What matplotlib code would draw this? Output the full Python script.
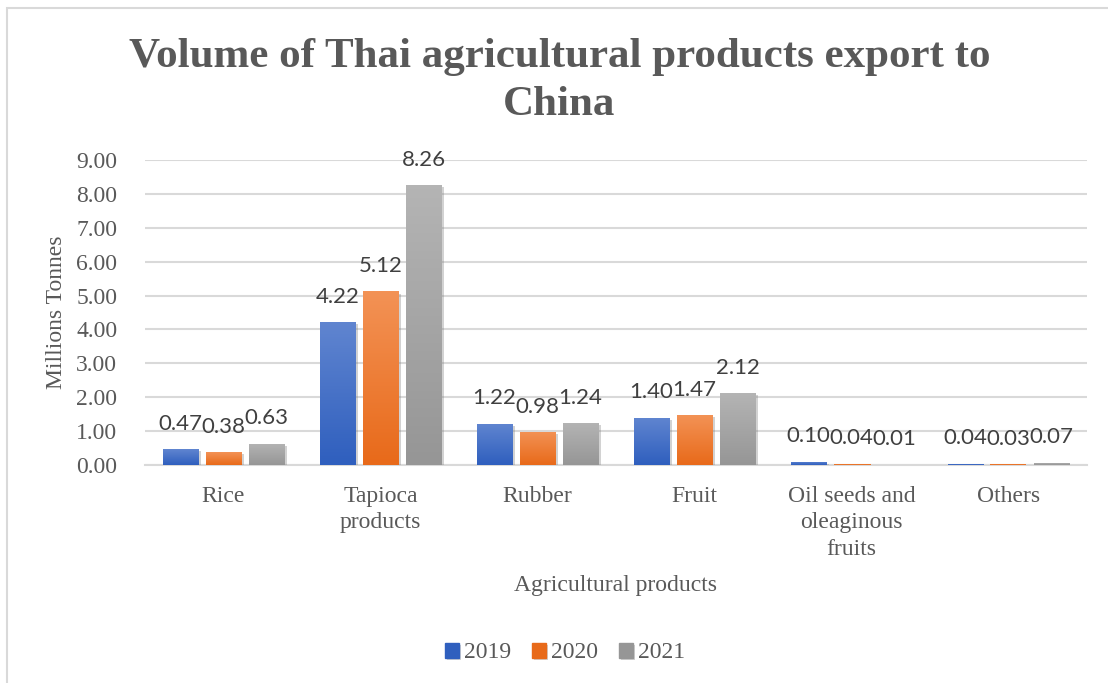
import numpy as np
import matplotlib.pyplot as plt
import matplotlib.patheffects as pe
from matplotlib.patches import Rectangle

# Export volumes, millions of tonnes
categories = ['Rice', 'Tapioca\nproducts', 'Rubber', 'Fruit',
              'Oil seeds and\noleaginous\nfruits', 'Others']
years = ['2019', '2020', '2021']
v2019 = [0.47, 4.22, 1.22, 1.40, 0.10, 0.04]
v2020 = [0.38, 5.12, 0.98, 1.47, 0.04, 0.03]
v2021 = [0.63, 8.26, 1.24, 2.12, 0.01, 0.07]

# gradient (top, bottom) per series
grads = [('#6085d0', '#2f5fbe'), ('#f39255', '#e86a1a'), ('#b4b4b4', '#969696')]

serif = 'Liberation Serif'
txt = '#595959'
fs = 17

fig = plt.figure(figsize=(11.08, 6.83), dpi=100)
fig.patches.append(Rectangle((7 / 1108, -0.1), 1.2, 1.1 - 8 / 683,
                             transform=fig.transFigure, fill=False,
                             edgecolor='#d9d9d9', linewidth=1.5))
ax = fig.add_axes([145 / 1108, 1 - 465 / 683, 942 / 1108, 305 / 683])

x = np.arange(len(categories))
w = 36 / 157
step = 43 / 157
ramp = np.linspace(0, 1, 64).reshape(-1, 1)
shadow = [pe.SimplePatchShadow(offset=(1.5, -1.5), shadow_rgbFace='#808080', alpha=0.35),
          pe.Normal()]

for i, (vals, (top, bot)) in enumerate(zip([v2019, v2020, v2021], grads)):
    bars = ax.bar(x + (i - 1) * step, vals, w, color=top, label=years[i], zorder=3)
    cmap = plt.matplotlib.colors.LinearSegmentedColormap.from_list('g', [bot, top])
    for b, v in zip(bars, vals):
        b.set_path_effects(shadow)
        x0, y0 = b.get_x(), b.get_y()
        im = ax.imshow(ramp, cmap=cmap, aspect='auto', origin='lower',
                       extent=[x0, x0 + b.get_width(), y0, y0 + b.get_height()],
                       zorder=3.5)
        im.set_clip_path(b)
        ax.annotate(f'{v:.2f}', (b.get_x() + b.get_width() / 2, v),
                    xytext=(0, 11), textcoords='offset points',
                    ha='center', va='bottom', fontsize=16,
                    family='Lato', color='#404040', zorder=5)

ax.set_xlim(-0.5, len(categories) - 0.5)
ax.set_ylim(0, 9)
ax.set_yticks(np.arange(0, 10, 1))
ax.set_yticklabels([f'{t:.2f}' for t in range(10)])
ax.set_xticks(x)
ax.set_xticklabels(categories, linespacing=1.35)
ax.tick_params(length=0, labelsize=fs, labelcolor=txt)
ax.tick_params(axis='y', pad=20)
ax.tick_params(axis='x', pad=15)
for lab in ax.get_xticklabels() + ax.get_yticklabels():
    lab.set_family(serif)
ax.yaxis.grid(True, color='#d9d9d9', linewidth=1.5, zorder=0)
for s in ['top', 'right', 'left']:
    ax.spines[s].set_visible(False)
ax.spines['bottom'].set_color('#d9d9d9')
ax.spines['bottom'].set_linewidth(1.5)

fig.text(0.505, 1 - 57 / 683, 'Volume of Thai agricultural products export to',
         ha='center', va='center', fontsize=31, fontweight='bold',
         family=serif, color=txt)
fig.text(0.505, 1 - 105 / 683, 'China', ha='center', va='center', fontsize=31,
         fontweight='bold', family=serif, color=txt)
fig.text(57 / 1108, 1 - 312 / 683, 'Millions Tonnes', rotation=90,
         ha='center', va='center', fontsize=fs, family=serif, color=txt)
fig.text(616 / 1108, 1 - 586 / 683, 'Agricultural products',
         ha='center', va='center', fontsize=fs, family=serif, color=txt)

leg = fig.legend(loc='center', bbox_to_anchor=(565 / 1108, 1 - 653 / 683),
                 ncol=3, frameon=False, handlelength=0.6, handleheight=0.6,
                 handletextpad=0.2, columnspacing=0.9,
                 prop={'family': serif, 'size': fs})
for t in leg.get_texts():
    t.set_color(txt)
for h, (top, bot) in zip(leg.legend_handles, grads):
    h.set_color(bot)

fig.savefig('out.png', dpi=100)
